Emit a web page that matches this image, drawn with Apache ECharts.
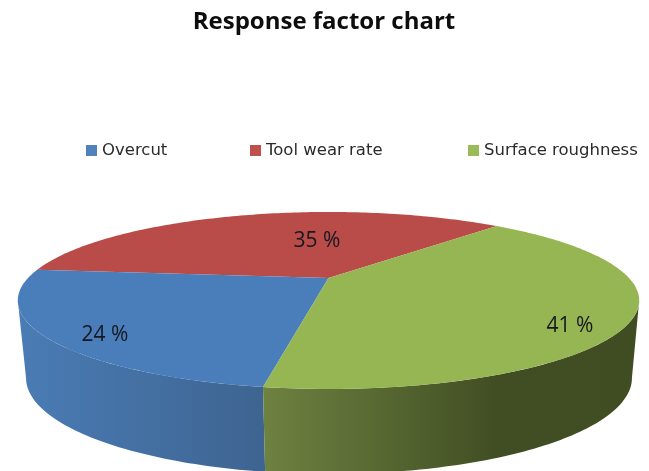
<!DOCTYPE html>
<html>
<head>
<meta charset="utf-8">
<style>html,body{margin:0;padding:0;background:#fff}#chart{width:649px;height:471px}</style>
<script src="https://cdn.jsdelivr.net/npm/echarts@6/dist/echarts.min.js"></script>
</head>
<body>
<div id="chart"></div>
<script>
// Response factor shares
const categories = ['Overcut', 'Tool wear rate', 'Surface roughness'];
const shares = [24, 35, 41];
const titleText = 'Response factor chart';
const unit = ' %';

// Slice colours and side-wall shading
const topColors = ['#4a7ebb', '#b94c48', '#96b553'];
const legendColors = ['#4f81bd', '#c0504d', '#9bbb59'];
const sideStops = [
  [[0, '#4a7cb5'], [1, '#3e6491']],
  null,
  [[0, '#6e8241'], [0.62, '#414e23'], [1, '#404d22']]
];
const sideSpan = [[18, 262], null, [262, 641]];
const labelSpots = [[105, 335], [317, 241], [570, 326]];
const legendLeft = [86, 250, 468];

// Perspective disc: top face and bottom rim of the tilted cylinder
const startDeg = 189.4;            // clockwise from the far point of the disc
const topFace = { cx: 328.5, cy: 278, a: 300.5, b: 82.8, k: 0.254 };
const baseFace = { cx: 329, cy: 353.6, a: 293, b: 89.8, k: 0.254 };
// The wall is visible between the two points where the disc outline turns back
const tangentDeg = Math.acos(-topFace.k) * 180 / Math.PI;
const frontArc = [tangentDeg, 360 - tangentDeg];

function project(face, deg) {
  const t = deg * Math.PI / 180;
  const u = Math.sin(t), v = -Math.cos(t);
  const w = 1 - face.k * v;
  return [face.cx + face.a * u / w, face.cy + face.b * v / w];
}
function arcPoints(face, from, to) {
  const pts = [];
  const n = Math.max(2, Math.ceil(Math.abs(to - from)));
  for (let i = 0; i <= n; i++) pts.push(project(face, from + (to - from) * i / n));
  return pts;
}

const total = shares.reduce((s, x) => s + x, 0);
const sliceRanges = [];
shares.reduce((acc, x) => {
  const end = acc + x / total * 360;
  sliceRanges.push([acc, end]);
  return end;
}, startDeg);

function renderSlice(idx) {
  return function () {
    const [from, to] = sliceRanges[idx];
    const children = [];
    // Side wall: the slice may wrap past a full turn, so test the arc both ways
    if (sideStops[idx]) {
      [0, 360].forEach(turn => {
        const f = Math.max(from, frontArc[0] + turn), e = Math.min(to, frontArc[1] + turn);
        if (e <= f) return;
        children.push({
          type: 'polygon',
          shape: { points: arcPoints(topFace, f, e).concat(arcPoints(baseFace, e, f)) },
          style: {
            fill: {
              type: 'linear', global: true,
              x: sideSpan[idx][0], y: 0, x2: sideSpan[idx][1], y2: 0,
              colorStops: sideStops[idx].map(s => ({ offset: s[0], color: s[1] }))
            }
          }
        });
      });
    }
    // Top face
    children.push({
      type: 'polygon',
      shape: { points: [[topFace.cx, topFace.cy]].concat(arcPoints(topFace, from, to)) },
      style: { fill: topColors[idx] }
    });
    // Percentage label
    children.push({
      type: 'text',
      z2: 10,
      style: {
        text: shares[idx] + unit,
        x: labelSpots[idx][0], y: labelSpots[idx][1],
        align: 'center', verticalAlign: 'middle',
        fill: '#16181f',
        font: '21px "Open Sans", sans-serif'
      }
    });
    return { type: 'group', children };
  };
}

// Far slice first, then the two near ones
const drawOrder = [1, 0, 2];
const series = drawOrder.map(idx => ({
  type: 'custom',
  name: categories[idx],
  coordinateSystem: 'none',
  itemStyle: { color: legendColors[idx] },
  data: [[shares[idx]]],
  renderItem: renderSlice(idx),
  silent: true,
  animation: false
}));

const chart = echarts.init(document.getElementById('chart'), null, { renderer: 'canvas' });
chart.setOption({
  animation: false,
  backgroundColor: '#ffffff',
  title: {
    text: titleText,
    left: 319, top: 5, textAlign: 'center',
    textStyle: { fontFamily: '"Open Sans"', fontWeight: 'bold', fontSize: 24, color: '#0d0d0d' }
  },
  // One legend per entry, so each keeps its own place along the row
  legend: categories.map((name, i) => ({
    data: [name],
    left: legendLeft[i], top: 142,
    padding: 0,
    icon: 'rect',
    itemWidth: 11, itemHeight: 11,
    textStyle: { fontFamily: '"DejaVu Sans"', fontSize: 16.5, color: '#2b2b2b' }
  })),
  series
});
</script>
</body>
</html>
